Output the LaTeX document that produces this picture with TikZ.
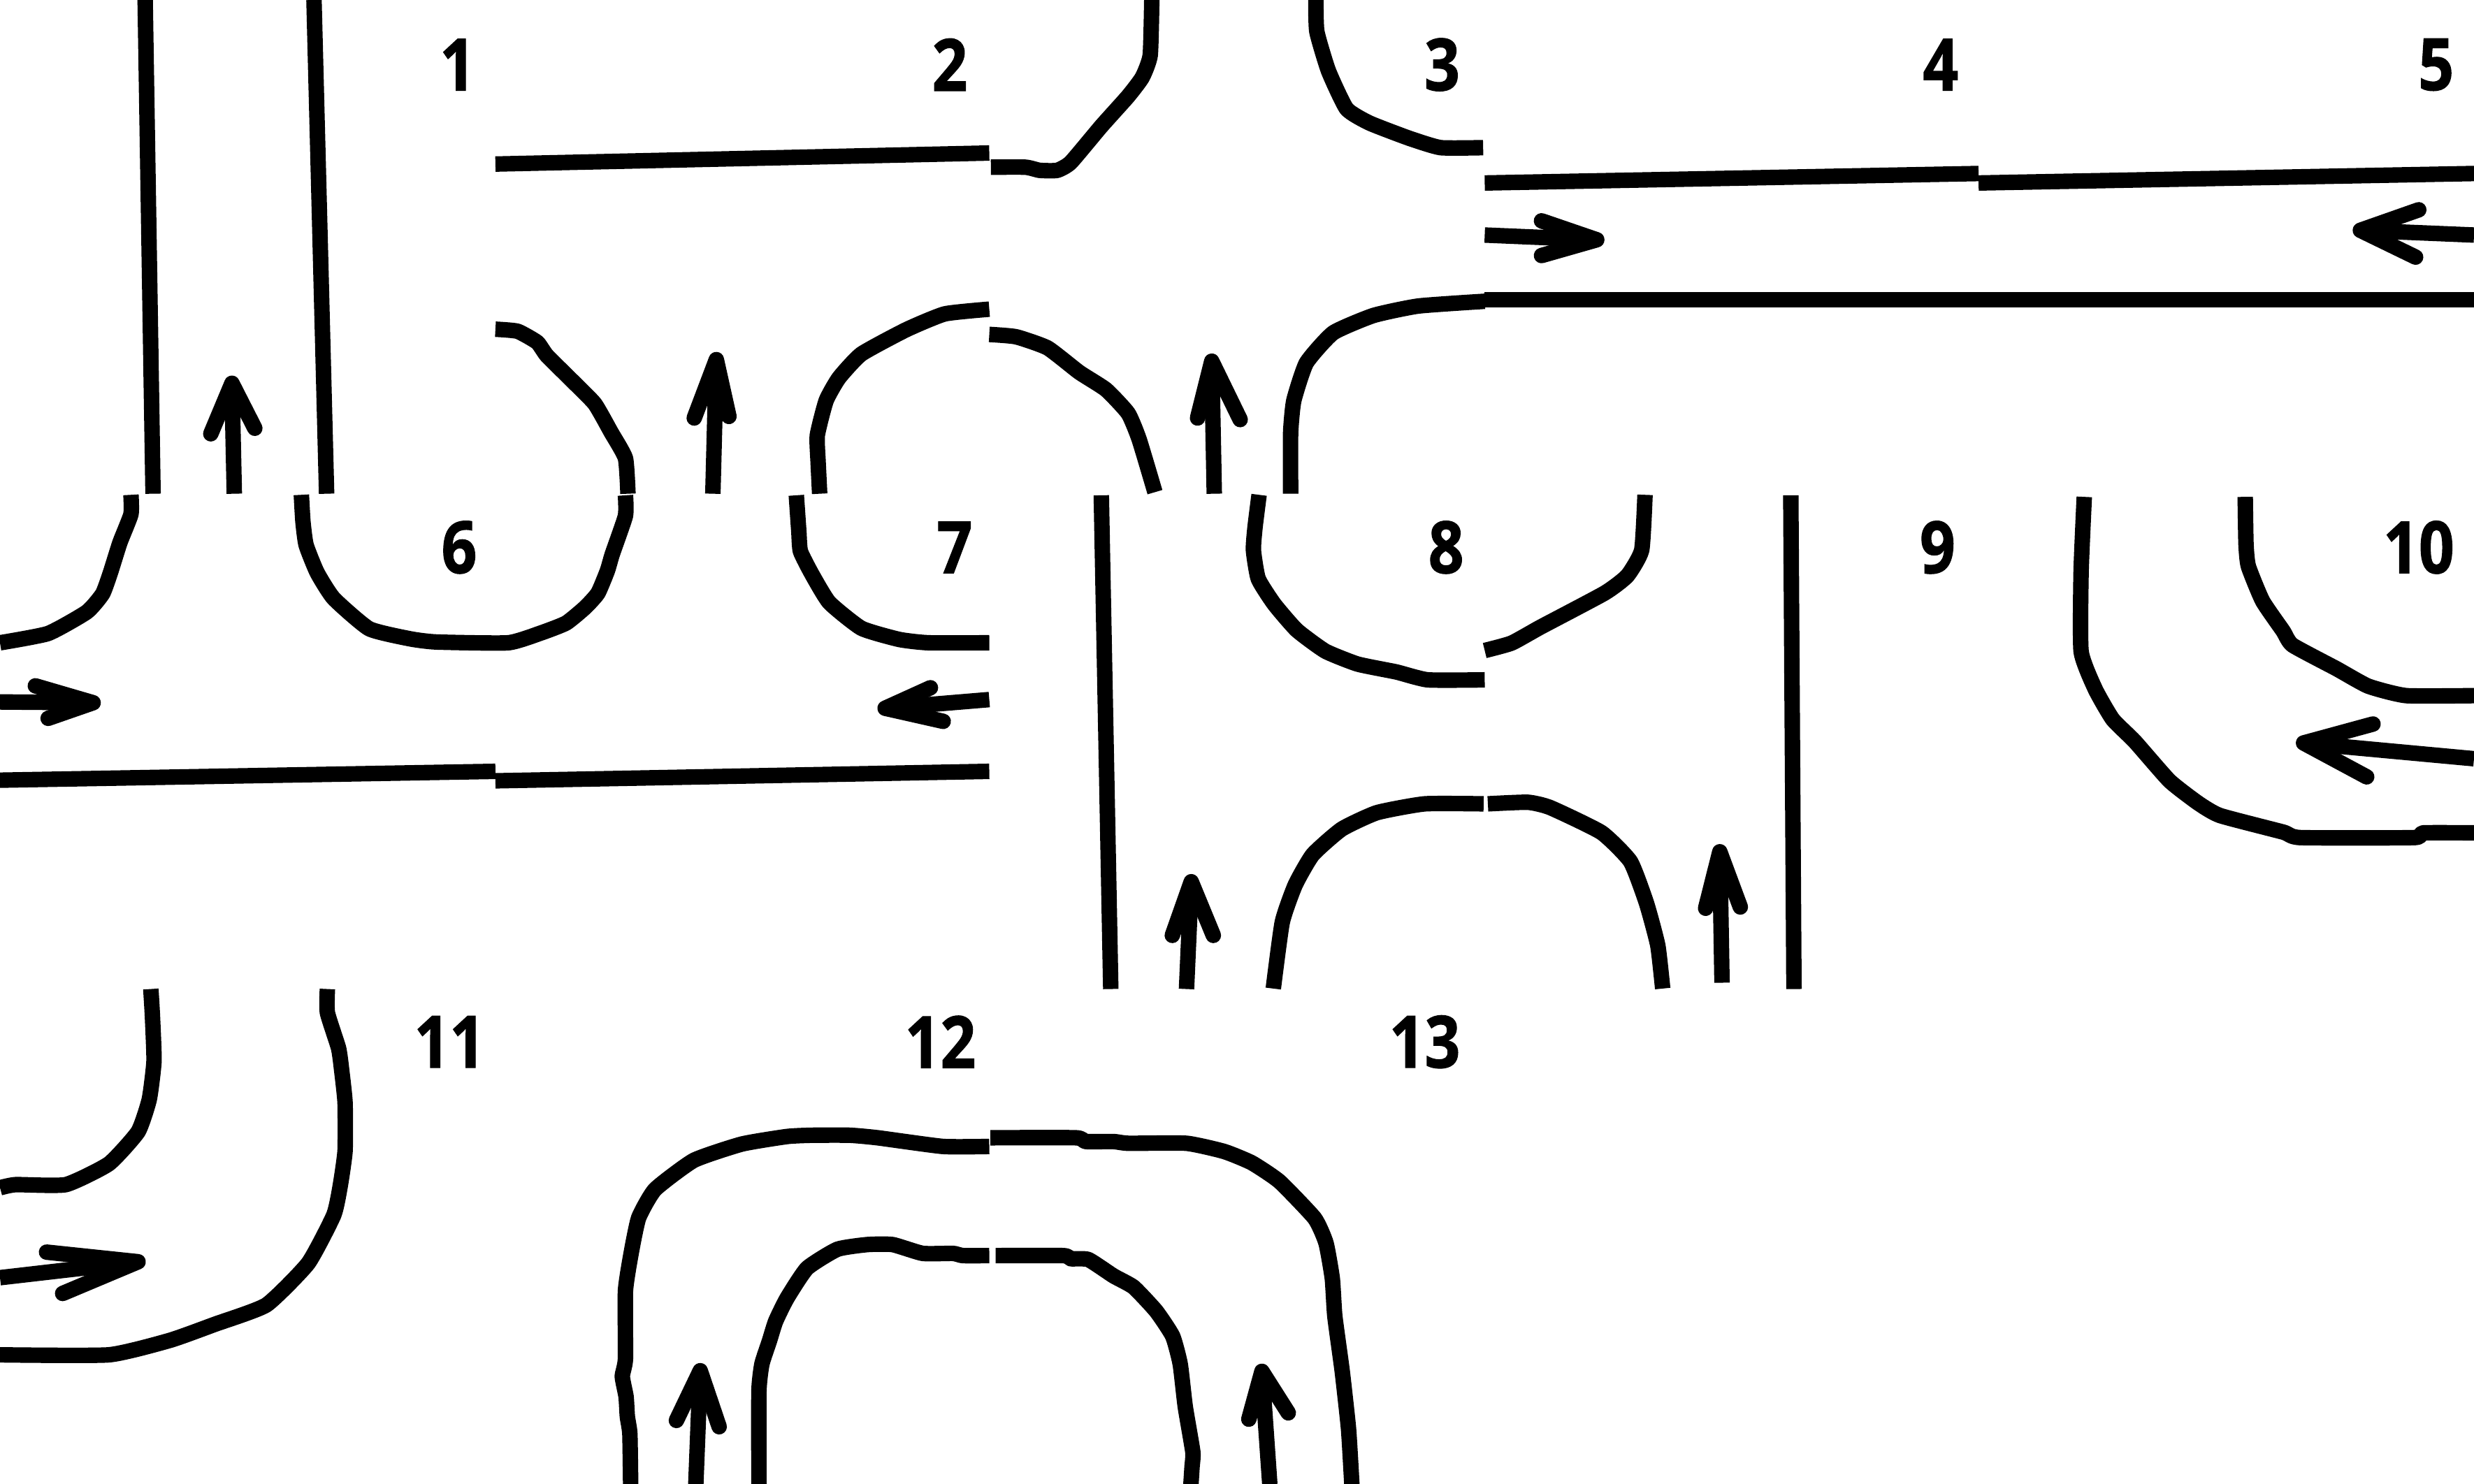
\documentclass[tikz,border=0pt]{standalone}
\usepackage{fontspec}
\newfontfamily\numfont[FakeStretch=0.86,FakeBold=1.2]{Open Sans}
\tikzset{
  x=0.01cm,y=-0.01cm,
  wall/.style={draw=black,line width=0.098cm,line join=round,line cap=butt},
  curb/.style={wall,smooth,tension=0.3},
  shaft/.style={draw=black,line width=0.098cm,line cap=butt},
  headstroke/.style={draw=black,line width=0.098cm,line join=round,line cap=round},
  num/.style={font=\fontsize{13pt}{15pt}\numfont\bfseries,text=black,inner sep=0pt}
}
\newcommand{\arrowstick}[4]{%
  \draw[shaft] #1 -- #2; \draw[headstroke] #3 -- #2 -- #4;}
\begin{document}
\begin{tikzpicture}
\useasboundingbox (0,0) rectangle (1568,940.8);
\clip (0,0) rectangle (1568,940.8);
\fill[white] (0,0) rectangle (1568,940.8);
% labels
\node[num] (n1) at (290,41) {1};
\node[num] (n2) at (602,41) {2};
\node[num] (n3) at (914,41) {3};
\node[num] (n4) at (1230,41) {4};
\node[num] (n5) at (1544,41) {5};
\node[num] (n6) at (291,347) {6};
\node[num] (n7) at (605,347) {7};
\node[num] (n8) at (916.5,347) {8};
\node[num] (n9) at (1228,347) {9};
\node[num] (n10) at (1533,347) {10};
\node[num] (n11) at (285,660.5) {11};
\node[num] (n12) at (596,660.5) {12};
\node[num] (n13) at (903,660.5) {13};
% straight walls
\draw[wall] (92,0) -- (97,313);
\draw[wall] (199,0) -- (207,313);
\draw[wall] (314,104) -- (627,97);
\draw[wall] (941,116) -- (1254,110);
\draw[wall] (1254,116) -- (1568,110);
\draw[wall] (941,190) -- (1568,190);
\draw[wall] (0,494.6) -- (314,489);
\draw[wall] (314,495) -- (627,489);
\draw[wall] (698,314) -- (704,627);
\draw[wall] (1135,314) -- (1137,627);
% curved walls
\draw[curb] plot coordinates {(628,106) (650,106) (659,108) (670,108) (678.6,103) (698,80) (715,61) (724,49) (729,35) (730,0)};
\draw[curb] plot coordinates {(834,0) (834.6,20) (842,45) (853.5,69) (868,78) (893,87.6) (913,93.6) (940,93.6)};
\draw[curb] plot coordinates {(818,313) (818,274.5) (820,254) (828,230) (845,211) (870.5,200) (899,194) (941,191)};
\draw[curb] plot coordinates {(627,212) (644,213.5) (664,220.6) (684,236) (701,247) (715,262) (722,278.6) (732,312)};
\draw[curb] plot coordinates {(627,196) (598.8,199) (574.4,209) (546,224.4) (531.7,239.6) (523.6,254) (518,276) (518.5,292.5) (519.5,313)};
\draw[curb] plot coordinates {(314,208.7) (328,210) (340.5,217) (346.6,225.4) (363,241.7) (377,256) (387.3,274) (396.4,290.5) (398,313)};
\draw[curb] plot coordinates {(396.4,314) (396.4,327) (388,351.5) (385,361.7) (379,376) (371,385) (358.8,395) (342.5,401.4) (322,407.5) (276.6,407) (260,405) (234,398.6) (211.5,379.4) (201,363) (194,345.5) (192,330.7) (191,313.7)};
\draw[curb] plot coordinates {(83,313.7) (83,326) (76,344) (70,363) (65,376.5) (55,388) (30.5,401.6) (0,407.5)};
\draw[curb] plot coordinates {(504.7,314) (506.3,337) (507.3,349.5) (514.4,363.7) (525.6,382) (546,398.3) (570,405.4) (588.6,407.5) (627,407.5)};
\draw[curb] plot coordinates {(798,313.7) (795.4,334.5) (794.4,348.7) (797.5,367) (807.6,383) (821.9,399.5) (840,412.8) (860.5,421) (885,426) (905,431) (941,431)};
\draw[curb] plot coordinates {(941,412.4) (958,407.7) (976.5,397.5) (1017,376) (1031.4,365) (1040.5,348.7) (1042.6,313.7)};
\draw[curb] plot coordinates {(807,626.7) (812.7,584.6) (820.9,561) (832,541.8) (850.4,525.6) (872.7,515.2) (903,509.6) (940.3,509.6)};
\draw[curb] plot coordinates {(943,509.6) (968.3,508.6) (982.6,512) (1015,527.8) (1033.4,546.2) (1043.6,572.8) (1050.7,599.4) (1053.8,626.7)};
\draw[curb] plot coordinates {(1321,315) (1319,362) (1319,413) (1328,437) (1339,456) (1353,470) (1375,495) (1393,509) (1407,517) (1447,527.5) (1458,531) (1530,531) (1536,528) (1568,528)};
\draw[curb] plot coordinates {(1423,315) (1423.5,345) (1425,359) (1434,381) (1447,400) (1453,409) (1481,424) (1501,435) (1525,441) (1568,441)};
\draw[curb] plot coordinates {(95.6,627) (96.6,644) (97.6,672.7) (94.6,697) (87.5,717.5) (69,737.8) (41.7,751) (10,751) (0,753)};
\draw[curb] plot coordinates {(207.5,627) (207.5,642) (214.6,664.6) (216.6,678.9) (218.7,699) (218.7,729.7) (215.6,752) (211.5,770.4) (195.3,800.9) (168.8,827.3) (136.3,839.5) (107.8,849.7) (69,858.9) (0,858.9)};
\draw[curb] plot coordinates {(399.7,941) (399.2,909) (397.6,898) (396.8,885.4) (394.4,872.6) (396.4,861.5) (396.4,818.5) (400,794.6) (404.8,772) (415.2,754) (439.8,735.6) (470.1,725.3) (498.8,720.5) (514.7,719.7) (538.6,719.7) (556.2,721.3) (597.6,726.8) (627,726.8)};
\draw[curb] plot coordinates {(627.7,721.3) (681.9,721.3) (688.2,723.7) (705.8,723.7) (715.3,724.8) (752,724.8) (775.9,730) (793.4,737.2) (810.9,749) (833.2,772.3) (840.4,788) (844.4,810.5) (846,834.4) (850.7,869.4) (854.7,906) (856.8,941)};
\draw[curb] plot coordinates {(481,941) (481,882) (482.9,864.7) (487.6,850.3) (491.6,837.6) (498.8,823) (511.5,804) (530.7,792) (549.8,789) (565.7,789) (584.8,794.6) (604,794.6) (610.3,796) (627,796)};
\draw[curb] plot coordinates {(631,796) (673.9,796) (678.7,798) (689.8,798.5) (705.8,808.9) (718.5,816) (732.8,831.2) (743.2,847) (748,864.7) (751.2,891.7) (756,920.4) (755.5,930) (754.8,941)};
% arrows
\arrowstick{(148.5,313)}{(147,243)}{(133.6,275)}{(161.5,271.5)}
\arrowstick{(451.8,313)}{(454,228)}{(440,265)}{(462,264)}
\arrowstick{(769.6,313)}{(768,229)}{(759,265)}{(786,266)}
\arrowstick{(941,149)}{(1012,152)}{(977,140)}{(977,162)}
\arrowstick{(1568,149)}{(1496,146)}{(1533,133)}{(1531,163)}
\arrowstick{(0,445)}{(59,445.5)}{(22.4,434.8)}{(30.5,455.4)}
\arrowstick{(627,443.5)}{(561,449)}{(589.7,436)}{(597.8,457.3)}
\arrowstick{(752,627)}{(755,559)}{(743,593)}{(769,593)}
\arrowstick{(1091.4,623)}{(1090,540)}{(1081,575.8)}{(1103,575)}
\arrowstick{(1568,481)}{(1460,471)}{(1504,459)}{(1500,492.5)}
\arrowstick{(0,810)}{(87.5,799.9)}{(29.5,793.8)}{(39.7,820)}
\arrowstick{(441,941)}{(443.8,869)}{(428.7,900.5)}{(455.8,904.5)}
\arrowstick{(804.8,941)}{(799.8,869.4)}{(791.5,899.7)}{(816.5,895.7)}
\end{tikzpicture}
\end{document}
